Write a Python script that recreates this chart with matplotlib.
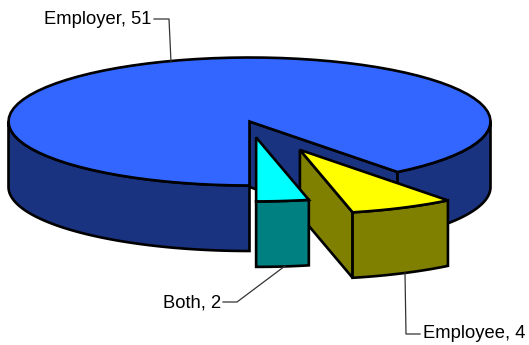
# 3D look exploded pie, drawn by hand since matplotlib has no tilted pie
import numpy as np
import matplotlib
matplotlib.use('Agg')
import matplotlib.pyplot as plt
from matplotlib.patches import Polygon

plt.rcParams['font.family'] = ['Liberation Sans', 'DejaVu Sans']

# data, in drawing order (counter clockwise from straight down)
labels = ['Both', 'Employee', 'Employer']
values = [2, 4, 51]
explode = [0.25, 0.49, 0.0]

top_colors = ['#00FFFF', '#FFFF00', '#3366FF']
side_colors = ['#008080', '#808000', '#1A3380']

# pie geometry in pixels
cx, cy = 249.5, 121.5
rx, ry = 241, 64
depth = 65.5
lw = 1.9

fig = plt.figure(figsize=(5.29, 3.45), dpi=100)
ax = fig.add_axes([0, 0, 1, 1])
ax.set_xlim(0, 529)
ax.set_ylim(345, 0)
ax.axis('off')


def arc(a0, a1, ox, oy, n=80):
    t = np.radians(np.linspace(a0, a1, n))
    return np.column_stack([ox + rx * np.cos(t), oy + ry * np.sin(t) * -1])


def face(pts, color, z):
    ax.add_patch(Polygon(pts, closed=True, facecolor=color, edgecolor='black',
                         linewidth=lw, joinstyle='miter', zorder=z))


# work out the slice angles from the values
sweeps = np.array(values) / sum(values) * 360
starts = 270 + np.concatenate([[0], np.cumsum(sweeps)[:-1]])

# main slice goes first, the exploded ones sit in front of it
order = [2, 1, 0]
for z, i in enumerate(order):
    a0, a1 = starts[i], starts[i] + sweeps[i]
    mid = np.radians((a0 + a1) / 2)
    ox = cx + explode[i] * rx * np.cos(mid)
    oy = cy - explode[i] * ry * np.sin(mid)
    zz = z * 10 + 1
    down = np.array([0, depth])
    apex = np.array([ox, oy])
    rim = arc(a0, a1, ox, oy)

    # cut face on the starting edge, the other one is turned away from the viewer
    face([apex, rim[0], rim[0] + down, apex + down], side_colors[i], zz)

    # outer wall, only the part that faces the viewer (180 to 360 deg)
    for lo, hi in [(180, 360), (540, 720)]:
        b0, b1 = max(a0, lo), min(a1, hi)
        if b0 < b1:
            wall = arc(b0, b1, ox, oy)
            face(np.vstack([wall, wall[::-1] + down]), side_colors[i], zz + 1)

    # top
    face(np.vstack([apex, rim]), top_colors[i], zz + 2)

# labels and leader lines
ax.text(151, 20, labels[2] + ', ' + str(values[2]), fontsize=13.2, ha='right', va='center')
ax.plot([154, 169, 171], [19, 19, 62], color='#333333', lw=0.9, zorder=50)

ax.text(221, 303, labels[0] + ', ' + str(values[0]), fontsize=13.2, ha='right', va='center')
ax.plot([223, 237, 285], [302, 302, 266], color='#333333', lw=0.9, zorder=50)

ax.text(423, 334, labels[1] + ', ' + str(values[1]), fontsize=13.2, ha='left', va='center')
ax.plot([405, 406, 420], [273, 334, 334], color='#333333', lw=0.9, zorder=50)

fig.savefig('out.png', dpi=100)
